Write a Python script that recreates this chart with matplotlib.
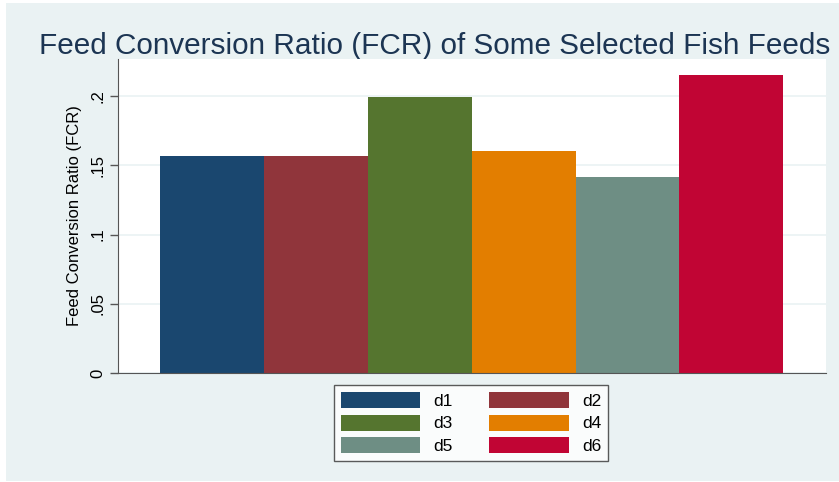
import matplotlib
matplotlib.use("Agg")
import matplotlib.pyplot as plt
from matplotlib.patches import Rectangle, Patch

plt.rcParams['font.family'] = ['Liberation Sans', 'DejaVu Sans']

categories = ["d1", "d2", "d3", "d4", "d5", "d6"]
values = [0.1567, 0.1567, 0.1993, 0.1603, 0.1415, 0.2152]
colors = ["#1a476f", "#90353b", "#55752f", "#e37e00", "#6e8e84", "#c10534"]
ytick_vals = [0, 0.05, 0.1, 0.15, 0.2]
ytick_labels = ["0", ".05", ".1", ".15", ".2"]

W, H = 839, 482
fig = plt.figure(figsize=(W/100, H/100), dpi=100)
fig.patch.set_facecolor("white")
fig.patches.append(Rectangle((6/W, 1/H), (W-6)/W, (479-1)/H, transform=fig.transFigure,
                             facecolor="#eaf2f3", edgecolor="none", zorder=-10))

ax = fig.add_axes([118/W, (H-373)/H, (826-118)/W, (373-59)/H])
ax.set_zorder(5)
ax.set_facecolor("white")
for i, (v, c) in enumerate(zip(values, colors)):
    ax.bar(i, v, width=1.0, color=c, edgecolor="none", zorder=2, label=categories[i])

ax.set_xlim(-0.5-0.404, 5.5+0.41)
ax.set_ylim(0, (373-59)/1385)
ax.set_yticks(ytick_vals)
ax.set_yticklabels(ytick_labels, rotation=90, va="center", fontsize=12)
ax.set_xticks([])
ax.yaxis.grid(True, color="#eaf2f3", linewidth=1.2, zorder=0)
ax.set_axisbelow(True)
for s in ["top", "right"]:
    ax.spines[s].set_visible(False)
ax.spines["left"].set_color("#555555")
ax.spines["bottom"].set_color("#555555")
ax.tick_params(axis="y", length=6, width=1, color="#555555", pad=3)
ax.set_ylabel("Feed Conversion Ratio (FCR)", fontsize=12, labelpad=6)

fig.text(435/W, 1-46/H, "Feed Conversion Ratio (FCR) of Some Selected Fish Feeds",
         ha="center", va="center", fontsize=21.4, color="#1c3553")

handles = [Patch(facecolor=c, edgecolor="none") for c in colors]
order = [0, 2, 4, 1, 3, 5]
leg = fig.legend([handles[i] for i in order], [categories[i] for i in order], ncol=2, loc="center",
                 bbox_to_anchor=(471/W, 1-423/H), frameon=True, fancybox=False,
                 fontsize=12.5, handlelength=4.6, handleheight=1.05, columnspacing=2.1,
                 handletextpad=0.75, labelspacing=0.3, borderpad=0.4)
leg.set_zorder(10)
leg.get_frame().set_edgecolor("#333333")
leg.get_frame().set_linewidth(1)
leg.get_frame().set_facecolor("white")

fig.savefig("out.png", dpi=100, facecolor=fig.get_facecolor())
